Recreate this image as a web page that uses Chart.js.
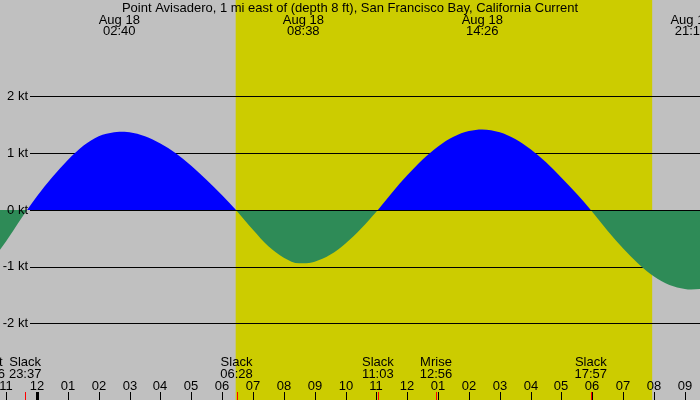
<!DOCTYPE html>
<html>
<head>
<meta charset="utf-8">
<script src="https://cdn.jsdelivr.net/npm/chart.js@4"></script>
<style>
  body { margin: 0; background: #c0c0c0; }
  #wrap { width: 700px; height: 400px; }
</style>
</head>
<body>
<div id="wrap"><canvas id="tide" width="700" height="400"></canvas></div>
<script>
// hours relative to midnight Aug 18 (negative = Aug 17)
const hours = [-1.2, -1.0, -0.5, 0, 0.5, 1, 1.5, 2, 2.5, 2.67, 3, 3.5, 4, 4.5, 5, 5.5, 6, 6.45,
  7, 7.5, 8, 8.5, 8.63, 9, 9.5, 10, 10.5, 11, 11.05,
  11.5, 12, 12.5, 13, 13.5, 14, 14.43, 15, 15.5, 16, 16.5, 17, 17.5, 17.95,
  18.5, 19, 19.5, 20, 20.5, 21, 21.2, 21.5];
const knots = [-0.70, -0.55, -0.14, 0.24, 0.58, 0.88, 1.13, 1.30, 1.37, 1.38, 1.37, 1.30, 1.17, 1.00, 0.78, 0.53, 0.26, 0,
  -0.35, -0.64, -0.84, -0.94, -0.94, -0.91, -0.79, -0.59, -0.33, -0.03, 0,
  0.30, 0.61, 0.89, 1.12, 1.29, 1.39, 1.42, 1.37, 1.25, 1.07, 0.84, 0.57, 0.28, 0,
  -0.37, -0.68, -0.95, -1.17, -1.32, -1.39, -1.40, -1.39];

const yTicks = [-2, -1, 0, 1, 2];
const hourTicks = [-1, 0, 1, 2, 3, 4, 5, 6, 7, 8, 9, 10, 11, 12, 13, 14, 15, 16, 17, 18, 19, 20, 21];
const hourLabels = ['11', '12', '01', '02', '03', '04', '05', '06', '07', '08', '09', '10', '11',
  '12', '01', '02', '03', '04', '05', '06', '07', '08', '09'];

// sun
const sunrise = 6.44;
const sunset = 19.94;

// max current events (top)
const maxTimes = [2.667, 8.633, 14.433, 21.2];
const maxDates = ['Aug 18', 'Aug 18', 'Aug 18', 'Aug 18'];
const maxLabels = ['02:40', '08:38', '14:26', '21:12'];

// bottom events
const evTimes = [-1.567, -0.383, 6.467, 11.05, 12.933, 17.95];
const evNames = ['Mset', 'Slack', 'Slack', 'Slack', 'Mrise', 'Slack'];
const evLabels = ['22:26', '23:37', '06:28', '11:03', '12:56', '17:57'];

const title = 'Point Avisadero, 1 mi east of (depth 8 ft), San Francisco Bay, California Current';

const FONT = '13px "Liberation Sans", Arial, sans-serif';

const tidePlugin = {
    id: 'tidePlugin',
    beforeDraw(chart) {
        const ctx = chart.ctx;
        const x = chart.scales.x;
        ctx.save();
        ctx.fillStyle = '#c0c0c0';
        ctx.fillRect(0, 0, chart.width, chart.height);
        ctx.fillStyle = '#cccc00';
        const x1 = x.getPixelForValue(sunrise);
        const x2 = x.getPixelForValue(sunset);
        ctx.fillRect(x1, 0, x2 - x1, chart.height);
        ctx.restore();
    },
    beforeDatasetsDraw(chart) {
        const ctx = chart.ctx;
        const y = chart.scales.y;
        ctx.save();
        ctx.strokeStyle = '#000';
        ctx.lineWidth = 1;
        yTicks.forEach(v => {
            if (v === 0) return;
            const py = Math.round(y.getPixelForValue(v)) + 0.5;
            ctx.beginPath();
            ctx.moveTo(30, py);
            ctx.lineTo(chart.width, py);
            ctx.stroke();
        });
        ctx.restore();
    },
    afterDatasetsDraw(chart) {
        const ctx = chart.ctx;
        const x = chart.scales.x;
        const y = chart.scales.y;
        ctx.save();
        ctx.strokeStyle = '#000';
        ctx.lineWidth = 1;
        const py0 = Math.round(y.getPixelForValue(0)) + 0.5;
        ctx.beginPath();
        ctx.moveTo(30, py0);
        ctx.lineTo(chart.width, py0);
        ctx.stroke();

        ctx.fillStyle = '#000';
        ctx.font = FONT;
        ctx.textBaseline = 'middle';

        // y labels
        ctx.textAlign = 'right';
        yTicks.forEach(v => {
            ctx.fillText(v + ' kt', 28, y.getPixelForValue(v));
        });

        ctx.textAlign = 'center';
        ctx.fillText(title, 350, 8);

        // top: max current
        maxTimes.forEach((t, i) => {
            const px = x.getPixelForValue(t);
            ctx.fillText(maxDates[i], px, 20);
            ctx.fillText(maxLabels[i], px, 31);
        });

        // bottom: events
        evTimes.forEach((t, i) => {
            const px = x.getPixelForValue(t);
            ctx.fillText(evNames[i], px, 362);
            ctx.fillText(evLabels[i], px, 374);
        });

        // hour labels and ticks
        hourTicks.forEach((h, i) => {
            const px = Math.round(x.getPixelForValue(h));
            ctx.fillText(hourLabels[i], px, 386);
            if (h === 0) {
                ctx.fillRect(px - 1, 392, 3, 8);
            } else {
                ctx.fillRect(px, 392, 1, 8);
            }
        });

        ctx.fillStyle = '#ff0000';
        evTimes.forEach(t => {
            const px = Math.round(x.getPixelForValue(t));
            ctx.fillRect(px, 392, 1, 8);
        });
        ctx.restore();
    }
};

new Chart(document.getElementById('tide'), {
    type: 'line',
    data: {
        datasets: [{
            data: hours.map((h, i) => ({ x: h, y: knots[i] })),
            borderWidth: 0,
            pointRadius: 0,
            cubicInterpolationMode: 'monotone',
            fill: { target: 'origin', above: '#0000ff', below: '#2e8b57' }
        }]
    },
    options: {
        responsive: false,
        animation: false,
        devicePixelRatio: 1,
        layout: { padding: 0 },
        plugins: { legend: { display: false }, tooltip: { enabled: false } },
        scales: {
            x: { type: 'linear', min: -1.199, max: 21.49, display: false },
            y: { min: -3.348, max: 3.70, display: false }
        }
    },
    plugins: [tidePlugin]
});
</script>
</body>
</html>
